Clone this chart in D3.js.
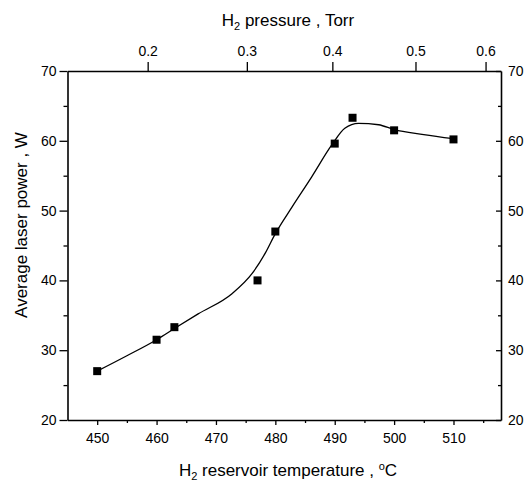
<!DOCTYPE html>
<html>
<head>
<meta charset="utf-8">
<script src="https://cdn.jsdelivr.net/npm/d3@7"></script>
<style>
  html, body { margin: 0; padding: 0; background: #fff; overflow: hidden; }
  svg { display: block; }
  svg text { font-family: "Liberation Sans", Arial, sans-serif; fill: #000; }
  .axis path, .axis line { stroke: #000; }
  .axis path { stroke-width: 1.6; }
  .axis line { stroke-width: 1.3; }
  .axis text { font-size: 14px; }
  .title { font-size: 17px; }
</style>
</head>
<body>
<svg id="chart"></svg>
<script>
// size
const width = 528;
const height = 485;
const margin = { top: 71, right: 27, bottom: 65, left: 67.5 };
const innerWidth = width - margin.left - margin.right;
const innerHeight = height - margin.top - margin.bottom;

// measured points: reservoir temperature (C) and laser power (W)
const temps  = [450, 460, 463, 477, 480, 490, 493, 500, 510];
const powers = [27.0, 31.5, 33.3, 40.0, 47.0, 59.6, 63.3, 61.5, 60.2];

// smooth fitted curve
const fitTemps  = [450, 455, 460, 463, 467, 472.7, 476.1, 478.3, 480, 482.8, 486.1, 489.5, 491.7, 494, 497.4, 500, 505, 510];
const fitPowers = [27.0, 29.2, 31.5, 33.1, 35.2, 38.1, 41.0, 43.9, 46.7, 50.5, 54.8, 59.4, 61.8, 62.5, 62.3, 61.6, 60.9, 60.3];

// axis ticks
const tempTicks = [450, 460, 470, 480, 490, 500, 510];
const tempMinor = [455, 465, 475, 485, 495, 505, 515];
const powerTicks = [20, 30, 40, 50, 60, 70];
const powerMinor = [25, 35, 45, 55, 65];
// top axis: H2 pressure labels and the temperature they sit at
const pressureTicks = ["0.2", "0.3", "0.4", "0.5", "0.6"];
const pressureAt    = [458.5, 475.2, 489.6, 503.6, 515.4];

const svg = d3.select("#chart")
    .attr("width", width)
    .attr("height", height);

const g = svg.append("g")
    .attr("transform", `translate(${margin.left},${margin.top})`);

const x = d3.scaleLinear().domain([445, 518]).range([0, innerWidth]);
const y = d3.scaleLinear().domain([20, 70]).range([innerHeight, 0]);

// minor ticks first (no labels)
function minor(sel) {
    sel.select(".domain").remove();
    sel.selectAll(".tick text").remove();
}
g.append("g").attr("class", "axis")
    .attr("transform", `translate(0,${innerHeight})`)
    .call(d3.axisBottom(x).tickValues(tempMinor).tickSize(3))
    .call(minor);
g.append("g").attr("class", "axis")
    .call(d3.axisLeft(y).tickValues(powerMinor).tickSize(4))
    .call(minor);
g.append("g").attr("class", "axis")
    .attr("transform", `translate(${innerWidth},0)`)
    .call(d3.axisLeft(y).tickValues(powerMinor).tickSize(3))
    .call(minor);

// bottom axis
g.append("g").attr("class", "axis")
    .attr("transform", `translate(0,${innerHeight})`)
    .call(d3.axisBottom(x).tickValues(tempTicks).tickSize(5).tickSizeOuter(0).tickPadding(8));

// left axis
g.append("g").attr("class", "axis")
    .call(d3.axisLeft(y).tickValues(powerTicks).tickSize(8).tickSizeOuter(0).tickPadding(3));

// right axis, ticks pointing inward
const rightAxis = g.append("g").attr("class", "axis")
    .attr("transform", `translate(${innerWidth},0)`)
    .call(d3.axisRight(y).tickValues(powerTicks).tickSize(0).tickSizeOuter(0).tickPadding(7));
rightAxis.selectAll(".tick line").attr("x2", -5);

// top axis (pressure)
g.append("g").attr("class", "axis")
    .call(d3.axisTop(x).tickValues(pressureAt).tickSize(9).tickSizeOuter(0).tickPadding(6)
        .tickFormat((d, i) => pressureTicks[i]));

// fitted curve
const line = d3.line()
    .x((d, i) => x(fitTemps[i]))
    .y(d => y(d))
    .curve(d3.curveMonotoneX);

g.append("path")
    .datum(fitPowers)
    .attr("fill", "none")
    .attr("stroke", "#000")
    .attr("stroke-width", 1.3)
    .attr("d", line);

// markers
g.selectAll("rect.pt")
    .data(powers)
    .enter()
    .append("rect")
    .attr("class", "pt")
    .attr("x", (d, i) => x(temps[i]) - 4)
    .attr("y", d => y(d) - 4)
    .attr("width", 8)
    .attr("height", 8)
    .attr("fill", "#000");

// labels
const bottomTitle = svg.append("text")
    .attr("class", "title")
    .attr("text-anchor", "middle")
    .attr("x", 288)
    .attr("y", 476);
bottomTitle.append("tspan").text("H");
bottomTitle.append("tspan").attr("font-size", "11px").attr("dy", 4).text("2");
bottomTitle.append("tspan").attr("dy", -4).text(" reservoir temperature , ");
bottomTitle.append("tspan").attr("font-size", "11px").attr("dy", -6).text("o");
bottomTitle.append("tspan").attr("dy", 6).text("C");

const topTitle = svg.append("text")
    .attr("class", "title")
    .attr("text-anchor", "middle")
    .attr("x", 288)
    .attr("y", 26);
topTitle.append("tspan").text("H");
topTitle.append("tspan").attr("font-size", "11px").attr("dy", 4).text("2");
topTitle.append("tspan").attr("dy", -4).text(" pressure , Torr");

svg.append("text")
    .attr("class", "title")
    .attr("font-size", "16px")
    .attr("text-anchor", "middle")
    .attr("transform", `translate(27, 225) rotate(-90)`)
    .text("Average laser power , W");
</script>
</body>
</html>
